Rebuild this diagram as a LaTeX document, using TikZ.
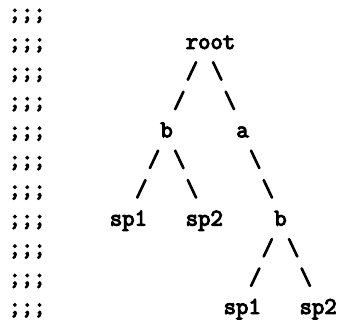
\documentclass[tikz,border=0pt]{standalone}
\usepackage{fontspec}
\newfontfamily\tokfont[FakeBold=4.5]{Latin Modern Mono}
\tikzset{tok/.style={anchor=mid west, inner sep=0pt, outer sep=0pt, font=\fontsize{24}{24}\selectfont\tokfont}}
\newcommand\tokat[4]{\node[tok] (#1) at ({8.675+12.65*(#2)},{305.7-29.45*(#3-1)}) {#4};}
\newcommand\bsl{\textbackslash}
\begin{document}
\begin{tikzpicture}[x=1pt,y=1pt]
\fill[white] (0,0) rectangle (341,323);
\useasboundingbox (0,0) rectangle (341,323);
\foreach \r in {1,...,11} {\tokat{semi\r}{0}{\r}{;;;}}
\tokat{root}{14}{2}{root}
\tokat{s3a}{14}{3}{/}
\tokat{s3b}{16}{3}{\bsl}
\tokat{s4a}{13}{4}{/}
\tokat{s4b}{17}{4}{\bsl}
\tokat{b1}{12}{5}{b}
\tokat{a}{18}{5}{a}
\tokat{s6a}{11}{6}{/}
\tokat{s6b}{13}{6}{\bsl}
\tokat{s6c}{19}{6}{\bsl}
\tokat{s7a}{10}{7}{/}
\tokat{s7b}{14}{7}{\bsl}
\tokat{s7c}{20}{7}{\bsl}
\tokat{spA}{8}{8}{sp1}
\tokat{spB}{14}{8}{sp2}
\tokat{b2}{21}{8}{b}
\tokat{s9a}{20}{9}{/}
\tokat{s9b}{22}{9}{\bsl}
\tokat{s10a}{19}{10}{/}
\tokat{s10b}{23}{10}{\bsl}
\tokat{spC}{17}{11}{sp1}
\tokat{spD}{23}{11}{sp2}
\end{tikzpicture}
\end{document}
